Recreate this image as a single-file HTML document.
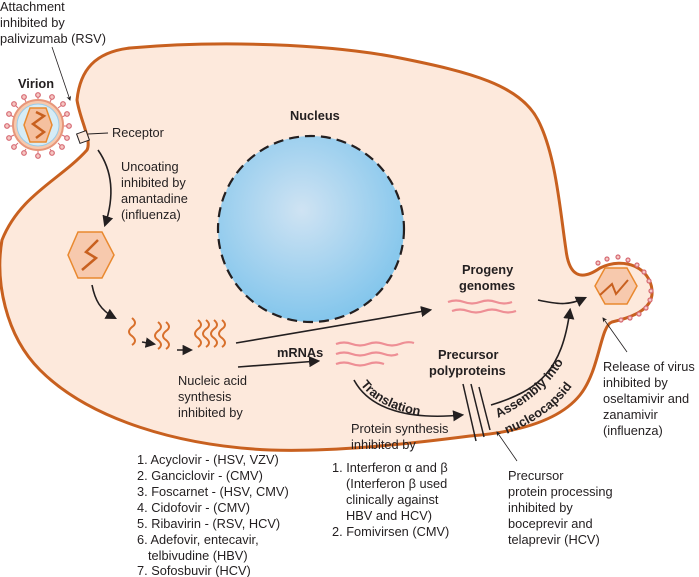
<!DOCTYPE html>
<html><head><meta charset="utf-8"><style>
html,body{margin:0;padding:0;background:#fff;}
svg{display:block;font-family:"Liberation Sans",Arial,sans-serif;}
.t{font-size:12.8px;fill:#231f20;}
.b{font-size:12.8px;font-weight:bold;fill:#231f20;}
</style></head><body>
<svg width="699" height="577" viewBox="0 0 699 577">
<defs>
<marker id="ar" viewBox="0 0 10 10" refX="8" refY="5" markerWidth="7" markerHeight="7" orient="auto"><path d="M0,0 L10,5 L0,10 z" fill="#231f20"/></marker>
<marker id="as" viewBox="0 0 10 10" refX="8" refY="5" markerWidth="6" markerHeight="6" orient="auto"><path d="M0,0 L10,5 L0,10 L3,5 z" fill="#231f20"/></marker>
<radialGradient id="ng" cx="0.45" cy="0.4" r="0.6"><stop offset="0" stop-color="#cfe3f3"/><stop offset="1" stop-color="#84c6ec"/></radialGradient>
<path id="trp" d="M356,378 C372,405 405,418 455,418"/>
<path id="asp" d="M498,418 C525,405 555,385 572,345"/>
<path id="asp2" d="M507,434 C535,422 565,405 583,368"/>
</defs>
<!-- cell -->
<path d="M77,100 C80,70 95,52 130,48 C220,40 330,44 400,58 C470,72 520,85 538,120 C556,155 560,210 566,250 C569,275 580,282 600,268 C625,256 650,268 652,290 C654,310 630,318 612,322 C600,326 600,370 580,395 C560,420 520,432 470,436 C400,445 330,452 270,450 C180,446 90,420 40,370 C5,335 -5,280 2,240 C20,195 60,180 87,150 C92,140 80,120 77,100 Z" fill="#fde9dc" stroke="#c8601f" stroke-width="3"/>
<!-- nucleus -->
<circle cx="311" cy="229" r="93" fill="url(#ng)" stroke="#231f20" stroke-width="2.2" stroke-dasharray="10,6"/>
<text class="b" x="290" y="120">Nucleus</text>
<!-- virion left -->
<g>
<g stroke="#d66a73" stroke-width="1">
<line x1="38" y1="100" x2="38" y2="96"/><line x1="50" y1="102" x2="52" y2="98"/><line x1="58" y1="108" x2="62" y2="105"/><line x1="62" y1="117" x2="66" y2="115"/><line x1="64" y1="126" x2="68" y2="126"/><line x1="62" y1="135" x2="66" y2="137"/><line x1="58" y1="143" x2="61" y2="146"/><line x1="50" y1="149" x2="52" y2="152"/><line x1="38" y1="151" x2="38" y2="155"/><line x1="26" y1="149" x2="24" y2="152"/><line x1="18" y1="143" x2="15" y2="146"/><line x1="14" y1="135" x2="10" y2="137"/><line x1="12" y1="126" x2="8" y2="126"/><line x1="14" y1="117" x2="10" y2="115"/><line x1="18" y1="108" x2="15" y2="105"/><line x1="26" y1="102" x2="24" y2="98"/>
</g>
<circle cx="38" cy="125" r="25" fill="#f7c9ad" stroke="#e7967a" stroke-width="2"/>
<circle cx="38" cy="125" r="21" fill="#d6ecf6" stroke="#9ccbe6" stroke-width="1"/>
<g stroke="#d66a73" stroke-width="1.2" fill="#f5c7c3">
<circle cx="38" cy="95" r="2.3"/><circle cx="52" cy="97" r="2.3"/><circle cx="63" cy="104" r="2.3"/><circle cx="67" cy="114" r="2.3"/><circle cx="69" cy="126" r="2.3"/><circle cx="67" cy="138" r="2.3"/><circle cx="62" cy="147" r="2.3"/><circle cx="52" cy="153" r="2.3"/><circle cx="38" cy="156" r="2.3"/><circle cx="24" cy="153" r="2.3"/><circle cx="14" cy="147" r="2.3"/><circle cx="9" cy="138" r="2.3"/><circle cx="7" cy="126" r="2.3"/><circle cx="9" cy="114" r="2.3"/><circle cx="14" cy="104" r="2.3"/><circle cx="24" cy="97" r="2.3"/>
</g>
<path d="M30,108 L46,108 L52,125 L46,142 L30,142 L24,125 Z" fill="#f5c09f" stroke="#e9892f" stroke-width="1.5"/>
<path d="M36,112 L44,116 L33,124 L44,132 L36,138" fill="none" stroke="#c8601f" stroke-width="2.5"/>
</g>
<text class="b" x="18" y="88">Virion</text>
<rect x="78" y="132" width="10" height="10" fill="#fde9dc" stroke="#231f20" stroke-width="1" transform="rotate(-20 83 137)"/>
<line x1="88" y1="134" x2="108" y2="133" stroke="#231f20" stroke-width="1"/>
<text class="t" x="112" y="137">Receptor</text>
<text class="t" x="0" y="11">Attachment</text>
<text class="t" x="0" y="27">inhibited by</text>
<text class="t" x="0" y="43">palivizumab (RSV)</text>
<line x1="52" y1="47" x2="70" y2="100" stroke="#231f20" stroke-width="0.8" marker-end="url(#as)"/>
<path d="M98,150 C112,170 115,195 105,225" fill="none" stroke="#231f20" stroke-width="1.6" marker-end="url(#ar)"/>
<text class="t" x="121" y="171">Uncoating</text>
<text class="t" x="121" y="187">inhibited by</text>
<text class="t" x="121" y="203">amantadine</text>
<text class="t" x="121" y="219">(influenza)</text>
<path d="M78,232 L102,232 L114,255 L102,278 L78,278 L68,255 Z" fill="#f7c9ad" stroke="#e9892f" stroke-width="1.5"/>
<path d="M98,240 L86,252 L96,258 L82,270" fill="none" stroke="#c8601f" stroke-width="2.5"/>
<path d="M92,285 C95,300 100,310 115,318" fill="none" stroke="#231f20" stroke-width="1.6" marker-end="url(#ar)"/>
<g fill="none" stroke="#d8702c" stroke-width="2">
<path d="M132,318 q6,5 0,9 q-6,5 0,9 q6,5 0,9"/>
<path d="M158,322 q6,5 0,9 q-6,5 0,9 q6,5 0,9"/><path d="M166,322 q6,5 0,9 q-6,5 0,9 q6,5 0,9"/>
<path d="M198,320 q6,5 0,9 q-6,5 0,9 q6,5 0,9"/>
<path d="M206,320 q6,5 0,9 q-6,5 0,9 q6,5 0,9"/>
<path d="M214,320 q6,5 0,9 q-6,5 0,9 q6,5 0,9"/>
<path d="M222,320 q6,5 0,9 q-6,5 0,9 q6,5 0,9"/>
</g>
<line x1="142" y1="342" x2="154" y2="344" stroke="#231f20" stroke-width="1.5" marker-end="url(#ar)"/>
<line x1="177" y1="350" x2="191" y2="350" stroke="#231f20" stroke-width="1.5" marker-end="url(#ar)"/>
<line x1="236" y1="343" x2="430" y2="310" stroke="#231f20" stroke-width="1.6" marker-end="url(#ar)"/>
<line x1="238" y1="367" x2="318" y2="361" stroke="#231f20" stroke-width="1.6" marker-end="url(#ar)"/>
<text class="b" x="277" y="357">mRNAs</text>
<text class="t" x="178" y="385">Nucleic acid</text>
<text class="t" x="178" y="401">synthesis</text>
<text class="t" x="178" y="417">inhibited by</text>
<g fill="none" stroke="#ee8f95" stroke-width="2.2">
<path d="M336,344 q8,-3 16,0 t16,0 t16,0 t16,0 t14,-1"/>
<path d="M336,354 q8,-3 16,0 t16,0 t16,0 t14,0"/>
<path d="M336,364 q8,-3 16,0 t16,0 t16,0"/>
<path d="M448,302 q8,-3 16,0 t16,0 t16,0 t16,0"/>
<path d="M452,311 q8,-3 16,0 t16,0 t16,0 t16,0"/>
</g>
<text class="b" x="462" y="274">Progeny</text>
<text class="b" x="459" y="290">genomes</text>
<text class="b" x="438" y="359">Precursor</text>
<text class="b" x="429" y="375">polyproteins</text>
<path d="M354,380 C370,410 410,420 462,415" fill="none" stroke="#231f20" stroke-width="1.6" marker-end="url(#ar)"/>
<text class="b"><textPath href="#trp" startOffset="8">Translation</textPath></text>
<g stroke="#231f20" stroke-width="1.5">
<line x1="463" y1="384" x2="476" y2="441"/><line x1="471" y1="384" x2="484" y2="437"/><line x1="479" y1="387" x2="490" y2="430"/>
</g>
<path d="M491,405 C540,390 562,370 570,310" fill="none" stroke="#231f20" stroke-width="1.6" marker-end="url(#ar)"/>
<path d="M538,300 C560,305 570,305 585,298" fill="none" stroke="#231f20" stroke-width="1.6" marker-end="url(#ar)"/>
<text class="b"><textPath href="#asp">Assembly into</textPath></text>
<text class="b"><textPath href="#asp2">nucleocapsid</textPath></text>
<g stroke="#d66a73" stroke-width="1.2" fill="#f5c7c3">
<circle cx="598" cy="263" r="2"/><circle cx="607" cy="259" r="2"/><circle cx="618" cy="257" r="2"/><circle cx="628" cy="260" r="2"/><circle cx="637" cy="265" r="2"/><circle cx="644" cy="272" r="2"/><circle cx="649" cy="281" r="2"/><circle cx="651" cy="291" r="2"/><circle cx="650" cy="300" r="2"/><circle cx="646" cy="308" r="2"/><circle cx="639" cy="314" r="2"/><circle cx="630" cy="318" r="2"/><circle cx="621" cy="320" r="2"/>
</g>
<path d="M605,268 L627,268 L637,286 L627,304 L605,304 L595,286 Z" fill="#f7c9ad" stroke="#e9892f" stroke-width="1.5"/>
<path d="M600,295 L612,284 L616,294 L628,280" fill="none" stroke="#c8601f" stroke-width="2"/>
<line x1="627" y1="352" x2="603" y2="318" stroke="#231f20" stroke-width="0.8" marker-end="url(#as)"/>
<text class="t" x="603" y="371">Release of virus</text>
<text class="t" x="603" y="387">inhibited by</text>
<text class="t" x="603" y="403">oseltamivir and</text>
<text class="t" x="603" y="419">zanamivir</text>
<text class="t" x="603" y="435">(influenza)</text>
<text class="t" x="351" y="433">Protein synthesis</text>
<text class="t" x="351" y="449">inhibited by</text>
<text class="t" x="332" y="472">1. Interferon α and β</text>
<text class="t" x="346" y="488">(Interferon β used</text>
<text class="t" x="346" y="504">clinically against</text>
<text class="t" x="346" y="520">HBV and HCV)</text>
<text class="t" x="332" y="536">2. Fomivirsen (CMV)</text>
<line x1="517" y1="461" x2="497" y2="432" stroke="#231f20" stroke-width="0.8" marker-end="url(#as)"/>
<text class="t" x="508" y="480">Precursor</text>
<text class="t" x="508" y="496">protein processing</text>
<text class="t" x="508" y="512">inhibited by</text>
<text class="t" x="508" y="528">boceprevir and</text>
<text class="t" x="508" y="544">telaprevir (HCV)</text>
<text class="t" x="137" y="464">1.  Acyclovir - (HSV, VZV)</text>
<text class="t" x="137" y="480">2. Ganciclovir - (CMV)</text>
<text class="t" x="137" y="496">3. Foscarnet - (HSV, CMV)</text>
<text class="t" x="137" y="512">4. Cidofovir - (CMV)</text>
<text class="t" x="137" y="528">5. Ribavirin - (RSV, HCV)</text>
<text class="t" x="137" y="544">6. Adefovir, entecavir,</text>
<text class="t" x="148" y="560">telbivudine (HBV)</text>
<text class="t" x="137" y="575">7. Sofosbuvir (HCV)</text>
</svg>
</body></html>
